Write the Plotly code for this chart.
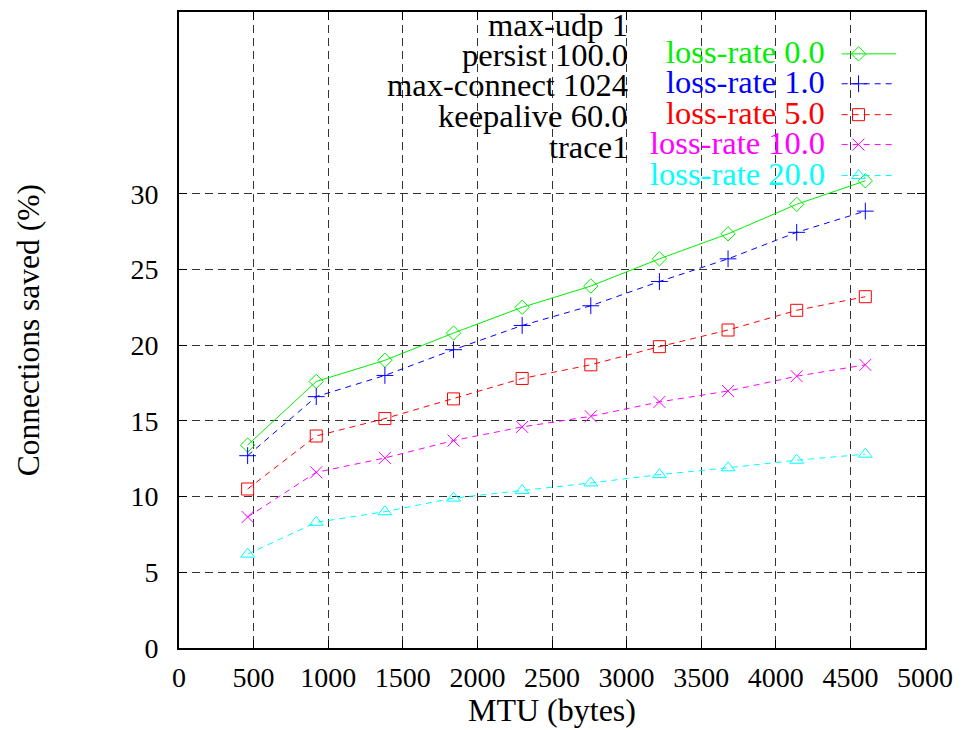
import plotly.graph_objects as go

mtu = [460, 920, 1380, 1840, 2300, 2760, 3220, 3680, 4140, 4600]
loss_0 = [13.4, 17.6, 19.0, 20.8, 22.5, 23.9, 25.7, 27.35, 29.3, 30.85]
loss_1 = [12.7, 16.6, 18.0, 19.7, 21.3, 22.6, 24.2, 25.7, 27.45, 28.85]
loss_5 = [10.5, 14.0, 15.15, 16.45, 17.8, 18.7, 19.9, 21.0, 22.3, 23.2]
loss_10 = [8.65, 11.6, 12.55, 13.7, 14.6, 15.3, 16.25, 16.97, 17.95, 18.7]
loss_20 = [6.2, 8.3, 9.0, 9.9, 10.4, 10.9, 11.45, 11.9, 12.4, 12.8]

series_names = ["loss-rate 0.0", "loss-rate 1.0", "loss-rate 5.0", "loss-rate 10.0", "loss-rate 20.0"]
series_vals = [loss_0, loss_1, loss_5, loss_10, loss_20]
colors = ["#00ee00", "#0000ff", "#ff0000", "#ff00ff", "#00ffff"]
symbols = ["diamond-open", "cross-thin-open", "square-open", "x-thin-open", "triangle-up-open"]
dashes = ["solid", "6px,5px", "6px,5px", "6px,5px", "6px,5px"]
sizes = [11, 12, 12, 12, 12]

info_lines = ["max-udp 1", "persist 100.0", "max-connect 1024", "keepalive 60.0", "trace1"]

x_ticks = [0, 500, 1000, 1500, 2000, 2500, 3000, 3500, 4000, 4500, 5000]
y_ticks = [0, 5, 10, 15, 20, 25, 30]

FONT = "Liberation Serif, Times New Roman, serif"

fig = go.Figure()
for name, vals, c, s, d, sz in zip(series_names, series_vals, colors, symbols, dashes, sizes):
    fig.add_trace(go.Scatter(
        x=mtu, y=vals, mode="lines+markers", name=name,
        line=dict(color=c, width=1, dash=d),
        marker=dict(symbol=s, size=sz, color=c, line=dict(color=c, width=1)),
        showlegend=False,
    ))

# Legend samples on overlay axes (pixel-like coordinates)
leg_y = [52, 82, 113, 143, 174]
for i, (c, s, d, sz) in enumerate(zip(colors, symbols, dashes, sizes)):
    fig.add_shape(type="line", xref="x2", yref="y2", x0=847, x1=902, y0=leg_y[i], y1=leg_y[i],
                  line=dict(color=c, width=1, dash=d))
    fig.add_trace(go.Scatter(x=[864], y=[leg_y[i]], xaxis="x2", yaxis="y2", mode="markers",
                             marker=dict(symbol=s, size=sz, color=c, line=dict(color=c, width=1)),
                             showlegend=False, hoverinfo="skip"))
    fig.add_annotation(xref="x2", yref="y2", x=832, y=leg_y[i] - 1.5, text=series_names[i],
                       xanchor="right", yanchor="middle", showarrow=False,
                       font=dict(family=FONT, size=32.5, color=c))

info_y = [23, 53, 83, 114, 145]
for t, yy in zip(info_lines, info_y):
    fig.add_annotation(xref="x2", yref="y2", x=634, y=yy, text=t,
                       xanchor="right", yanchor="middle", showarrow=False,
                       font=dict(family=FONT, size=32.5, color="black"))

# Axis titles
fig.add_annotation(xref="paper", yref="paper", x=0.5, y=-0.098, text="MTU (bytes)",
                   xanchor="center", yanchor="middle", showarrow=False,
                   font=dict(family=FONT, size=32, color="black"))
fig.add_annotation(xref="paper", yref="paper", x=-0.202, y=0.5, text="Connections saved (%)",
                   xanchor="center", yanchor="middle", showarrow=False, textangle=-90,
                   font=dict(family=FONT, size=31.5, color="black"))

grid = dict(showgrid=True, gridcolor="#333333", gridwidth=1, griddash="8px,5px")
fig.update_layout(
    width=963, height=730,
    margin=dict(l=179, r=32, t=10, b=82),
    paper_bgcolor="white", plot_bgcolor="white",
    xaxis=dict(range=[0, 5000], tickvals=x_ticks, ticktext=[str(v) for v in x_ticks],
               ticks="inside", ticklen=8, tickwidth=1, tickcolor="black",
               showline=True, linecolor="black", linewidth=2, mirror="ticks",
               zeroline=False, tickfont=dict(family=FONT, size=28, color="black"),
               ticklabelstandoff=3, **grid),
    yaxis=dict(range=[0, 42], tickvals=y_ticks, ticktext=[str(v) for v in y_ticks],
               ticks="inside", ticklen=8, tickwidth=1, tickcolor="black",
               showline=True, linecolor="black", linewidth=2, mirror="ticks",
               zeroline=False, tickfont=dict(family=FONT, size=28, color="black"),
               ticklabelstandoff=13, **grid),
    xaxis2=dict(range=[179, 931], overlaying="x", visible=False, fixedrange=True),
    yaxis2=dict(range=[648, 10], overlaying="y", visible=False, fixedrange=True),
    showlegend=False,
)

fig.write_html("out.html", config={"displayModeBar": False},
               post_script="document.body.style.margin='0';document.body.style.overflow='hidden';")
